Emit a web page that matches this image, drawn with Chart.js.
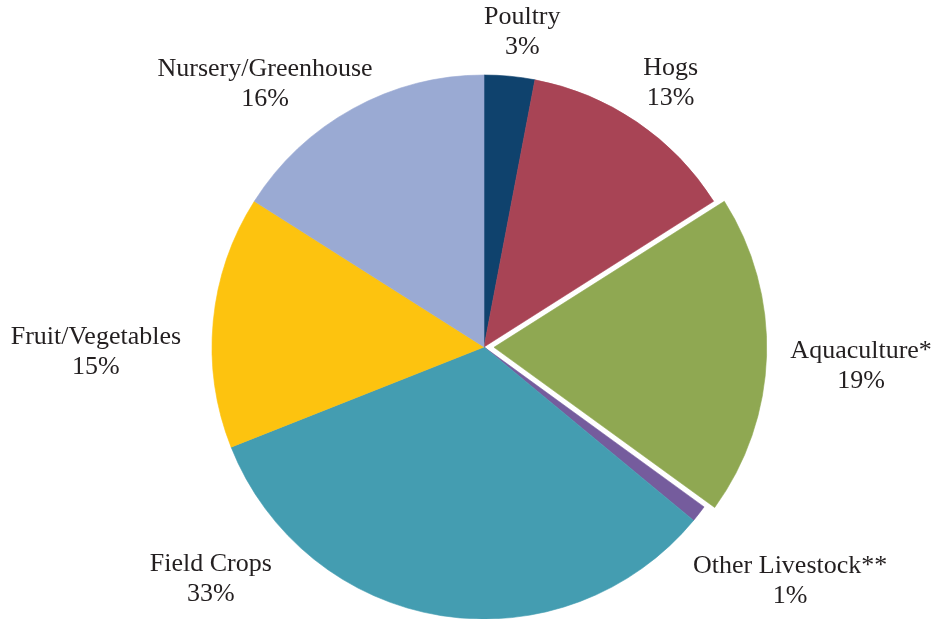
<!DOCTYPE html>
<html>
<head>
<meta charset="utf-8">
<script src="https://cdn.jsdelivr.net/npm/chart.js@4/dist/chart.umd.min.js"></script>
<style>
  html, body { margin: 0; padding: 0; background: #fff; }
  #wrap { width: 935px; height: 619px; position: relative; }
</style>
</head>
<body>
<div id="wrap"><canvas id="pie"></canvas></div>
<script>
const categories = ["Poultry", "Hogs", "Aquaculture*", "Other Livestock**", "Field Crops", "Fruit/Vegetables", "Nursery/Greenhouse"];
const shares = [3, 13, 19, 1, 33, 15, 16];
const sliceColors = ["#0f426d", "#a84455", "#8fa852", "#755c9d", "#449db1", "#fdc30f", "#9aaad3"];

// where each label sits: angle (deg, clockwise from top) and distance as a multiple of the radius
const labelSpots = [
  [6.9, 1.17], [35.2, 1.19], [92.7, 1.388], [127.3, 1.415],
  [229.8, 1.315], [269.4, 1.427], [320.3, 1.26]
];

const outsideLabels = {
  id: "outsideLabels",
  afterDatasetsDraw(chart) {
    const ctx = chart.ctx;
    const arcs = chart.getDatasetMeta(0).data;
    const cx = (chart.chartArea.left + chart.chartArea.right) / 2;
    const cy = (chart.chartArea.top + chart.chartArea.bottom) / 2;
    ctx.save();
    ctx.fillStyle = "#231f20";
    ctx.font = '26px "Liberation Serif"';
    ctx.textAlign = "center";
    ctx.textBaseline = "middle";
    arcs.forEach((arc, i) => {
      const r = arc.outerRadius;
      const a = labelSpots[i][0] * Math.PI / 180;
      const d = labelSpots[i][1] * r;
      const x = cx + Math.sin(a) * d;
      const y = cy - Math.cos(a) * d;
      ctx.fillText(categories[i], x, y - 14);
      ctx.fillText(shares[i] + "%", x, y + 16);
    });
    ctx.restore();
  }
};

new Chart(document.getElementById("pie").getContext("2d"), {
  type: "pie",
  data: {
    labels: categories,
    datasets: [{
      data: shares,
      backgroundColor: sliceColors,
      borderColor: sliceColors,
      borderWidth: 0.6,
      // arc offset is drawn at a quarter of this value
      offset: [0, 0, 40, 0, 0, 0, 0]
    }]
  },
  options: {
    responsive: true,
    maintainAspectRatio: false,
    animation: false,
    radius: 272,
    layout: { padding: { left: 33, top: 75, right: 0, bottom: 0 } },
    plugins: {
      legend: { display: false },
      tooltip: { enabled: false }
    }
  },
  plugins: [outsideLabels]
});
</script>
</body>
</html>
